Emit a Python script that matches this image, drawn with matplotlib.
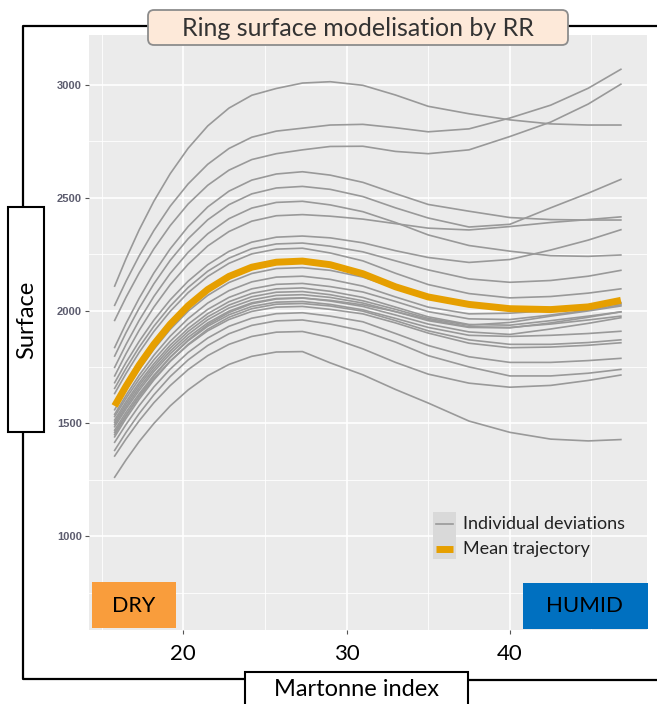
import matplotlib
matplotlib.use("Agg")
import matplotlib.pyplot as plt
from matplotlib.transforms import Affine2D
from matplotlib.patches import Rectangle, FancyBboxPatch
from matplotlib.lines import Line2D

# ---------------- data ----------------
martonne = [15.8, 16.5, 17.3, 18.2, 19.2, 20.3, 21.5, 22.8, 24.2, 25.7,
            27.3, 29, 31, 33, 35, 37.5, 40, 42.5, 44.8, 46.8]

mean_trajectory = [1577, 1665, 1758, 1850, 1939, 2021, 2093, 2151, 2192, 2214,
                   2219, 2203, 2163, 2105, 2060, 2027, 2008, 2004, 2016, 2045]

ind_A = [2108, 2230, 2357, 2484, 2606, 2719, 2818, 2897, 2954, 2984, 3008, 3014, 2998, 2955, 2905, 2872, 2845, 2827, 2822, 2822]
ind_B = [2023, 2130, 2242, 2354, 2462, 2561, 2648, 2718, 2768, 2795, 2808, 2822, 2825, 2810, 2792, 2805, 2853, 2910, 2985, 3069]
ind_C = [1956, 2059, 2166, 2273, 2376, 2472, 2555, 2622, 2669, 2695, 2712, 2727, 2728, 2705, 2695, 2712, 2771, 2835, 2915, 3003]
ind_D = [1836, 1943, 2054, 2166, 2273, 2372, 2459, 2529, 2578, 2605, 2615, 2600, 2568, 2518, 2470, 2440, 2412, 2403, 2401, 2401]
ind_E = [1798, 1902, 2010, 2118, 2222, 2318, 2402, 2469, 2517, 2543, 2550, 2537, 2505, 2455, 2410, 2370, 2382, 2455, 2520, 2581]
ind_F = [1748, 1850, 1956, 2062, 2164, 2258, 2340, 2407, 2454, 2479, 2484, 2468, 2438, 2390, 2335, 2288, 2263, 2243, 2240, 2246]
ind_G = [1710, 1809, 1912, 2015, 2114, 2205, 2286, 2350, 2396, 2420, 2425, 2418, 2405, 2385, 2365, 2357, 2372, 2390, 2403, 2415]
ind_H = [1680, 1770, 1863, 1957, 2047, 2130, 2203, 2262, 2303, 2325, 2330, 2322, 2300, 2265, 2235, 2213, 2226, 2268, 2312, 2358]
ind_I = [1655, 1744, 1837, 1930, 2019, 2102, 2174, 2232, 2274, 2295, 2299, 2285, 2260, 2220, 2180, 2140, 2125, 2133, 2152, 2178]
ind_J = [1632, 1721, 1814, 1907, 1996, 2079, 2151, 2209, 2251, 2272, 2276, 2255, 2220, 2165, 2115, 2075, 2056, 2062, 2077, 2096]
ind_K = [1560, 1647, 1738, 1828, 1916, 1997, 2067, 2124, 2164, 2186, 2190, 2178, 2148, 2100, 2060, 2022, 2010, 2013, 2022, 2035]
ind_L = [1540, 1624, 1713, 1801, 1886, 1964, 2033, 2088, 2127, 2148, 2152, 2138, 2108, 2060, 2015, 1985, 1988, 2000, 2013, 2030]
ind_M = [1530, 1611, 1696, 1781, 1863, 1939, 2005, 2058, 2096, 2116, 2120, 2106, 2082, 2040, 1995, 1963, 1960, 1980, 2002, 2025]
ind_N = [1515, 1596, 1680, 1764, 1846, 1920, 1986, 2039, 2076, 2096, 2100, 2085, 2058, 2015, 1972, 1938, 1935, 1955, 1975, 1994]
ind_O = [1505, 1585, 1669, 1752, 1833, 1907, 1972, 2024, 2061, 2081, 2084, 2070, 2043, 2005, 1965, 1935, 1947, 1975, 1998, 2020]
ind_P = [1495, 1574, 1657, 1740, 1820, 1894, 1959, 2011, 2047, 2067, 2070, 2058, 2033, 1995, 1955, 1925, 1923, 1945, 1970, 1994]
ind_Q = [1485, 1564, 1646, 1729, 1808, 1881, 1945, 1997, 2034, 2053, 2056, 2042, 2018, 1980, 1940, 1905, 1894, 1918, 1943, 1968]
ind_R = [1470, 1549, 1631, 1713, 1793, 1866, 1930, 1981, 2018, 2037, 2040, 2027, 2003, 1965, 1925, 1890, 1885, 1890, 1898, 1908]
ind_S = [1460, 1537, 1618, 1698, 1776, 1847, 1910, 1960, 1996, 2015, 2018, 2005, 1985, 1945, 1900, 1855, 1835, 1838, 1846, 1857]
ind_T = [1450, 1533, 1621, 1708, 1792, 1869, 1937, 1991, 2030, 2051, 2055, 2045, 2025, 1995, 1960, 1928, 1925, 1940, 1958, 1975]
ind_U = [1440, 1522, 1607, 1692, 1774, 1850, 1917, 1970, 2008, 2028, 2031, 2020, 1997, 1955, 1910, 1870, 1850, 1850, 1858, 1870]
ind_V = [1416, 1495, 1578, 1661, 1740, 1814, 1878, 1930, 1966, 1986, 1990, 1975, 1950, 1898, 1845, 1795, 1770, 1770, 1778, 1788]
ind_W = [1380, 1460, 1543, 1626, 1707, 1781, 1845, 1897, 1934, 1954, 1958, 1940, 1910, 1860, 1800, 1750, 1710, 1710, 1722, 1739]
ind_X = [1355, 1431, 1511, 1591, 1667, 1738, 1800, 1850, 1885, 1904, 1907, 1880, 1830, 1770, 1718, 1678, 1660, 1668, 1690, 1714]
ind_Y = [1261, 1338, 1419, 1499, 1577, 1648, 1711, 1761, 1797, 1816, 1818, 1768, 1715, 1650, 1590, 1510, 1460, 1430, 1422, 1428]

individuals = [ind_A, ind_B, ind_C, ind_D, ind_E, ind_F, ind_G, ind_H, ind_I,
               ind_J, ind_K, ind_L, ind_M, ind_N, ind_O, ind_P, ind_Q, ind_R,
               ind_S, ind_T, ind_U, ind_V, ind_W, ind_X, ind_Y]

x_ticks = [20, 30, 40]
y_ticks = [1000, 1500, 2000, 2500, 3000]

# ---------------- figure ----------------
W, H, DPI = 657, 704, 100
fig = plt.figure(figsize=(W / DPI, H / DPI), dpi=DPI)
fig.patch.set_facecolor("white")

# pixel transform (origin top-left)
px = Affine2D().scale(1, -1).translate(0, H) + Affine2D().scale(1 / DPI) + fig.dpi_scale_trans

L, R, T, B = 89, 647, 35, 630
ax = fig.add_axes([L / W, 1 - B / H, (R - L) / W, (B - T) / H])
ax.set_facecolor("#EBEBEB")
for s in ax.spines.values():
    s.set_visible(False)

ax.set_xlim(14.23, 48.4)
ax.set_ylim(584, 3221)

ax.set_xticks(x_ticks)
ax.set_xticks([15, 25, 35, 45], minor=True)
ax.set_yticks(y_ticks)
ax.set_yticks([750, 1250, 1750, 2250, 2750], minor=True)
ax.grid(True, which="major", color="white", lw=1.2)
ax.grid(True, which="minor", color="white", lw=0.6)
ax.set_axisbelow(True)
ax.tick_params(which="minor", length=0)
ax.tick_params(axis="y", which="major", length=3, color="#555555", pad=2,
               labelsize=8, labelcolor="#5c5c6e")
ax.tick_params(axis="x", which="major", length=3, color="#555555", pad=7,
               labelsize=16, labelcolor="black")
for lab in ax.get_xticklabels():
    lab.set_fontfamily("Lato")
for lab in ax.get_yticklabels():
    lab.set_fontfamily("Liberation Sans")
    lab.set_fontweight("bold")

for ys in individuals:
    ax.plot(martonne, ys, color="#999999", lw=1.2, zorder=2)
ax.plot(martonne, mean_trajectory, color="#E69F00", lw=5, solid_capstyle="butt",
        solid_joinstyle="round", zorder=3)

# legend
fig.add_artist(Rectangle((433, 512), 23, 47, transform=px, facecolor="#D9D9D9",
                         edgecolor="none", zorder=1))
fig.add_artist(Line2D([436, 453], [524, 524], transform=px, color="#999999", lw=1.2, zorder=2))
fig.add_artist(Line2D([436, 453], [549, 549], transform=px, color="#E69F00", lw=5,
                      solid_capstyle="butt", zorder=2))
fig.text(463, 524, "Individual deviations", transform=px, fontsize=13,
         family="Lato", color="#222222", va="center", ha="left")
fig.text(463, 549, "Mean trajectory", transform=px, fontsize=13,
         family="Lato", color="#222222", va="center", ha="left")

# ---------------- overlay annotations ----------------
frame_kw = dict(transform=px, color="black", lw=1.6, solid_capstyle="butt", zorder=1)
fig.add_artist(Line2D([148, 23, 23], [26, 26, 207], **frame_kw))
fig.add_artist(Line2D([23, 23, 245], [432, 679, 679], **frame_kw))
fig.add_artist(Line2D([468, 657], [680, 680], **frame_kw))
fig.add_artist(Line2D([568, 657], [26, 26], **frame_kw))

# title box
fig.add_artist(FancyBboxPatch((148, 10), 420, 35, transform=px,
                              boxstyle="round,pad=0,rounding_size=6",
                              facecolor="#FDE9D9", edgecolor="#8C8C8C", lw=1.3, zorder=4))
fig.text(358, 28, "Ring surface modelisation by RR", transform=px, fontsize=18,
         family="Lato", color="#333333", ha="center", va="center", zorder=5)

# Surface box
fig.add_artist(Rectangle((8, 207), 36, 225, transform=px, facecolor="white",
                         edgecolor="black", lw=1.5, zorder=4))
fig.text(27, 320, "Surface", transform=px, fontsize=17, family="Lato",
         rotation=90, ha="center", va="center", color="black", zorder=5)

# Martonne box
fig.add_artist(Rectangle((245, 672), 223, 40, transform=px, facecolor="white",
                         edgecolor="black", lw=1.5, zorder=4))
fig.text(356, 690, "Martonne index", transform=px, fontsize=17, family="Lato",
         ha="center", va="center", color="black", zorder=5)

# DRY / HUMID boxes
fig.add_artist(Rectangle((92, 582), 84, 46, transform=px, facecolor="#F99D3C",
                         edgecolor="none", zorder=4))
fig.text(134, 606, "DRY", transform=px, fontsize=15.5, family="Lato",
         ha="center", va="center", color="black", zorder=5)
fig.add_artist(Rectangle((523, 583), 125, 46, transform=px, facecolor="#0070C0",
                         edgecolor="none", zorder=4))
fig.text(585, 606, "HUMID", transform=px, fontsize=16, family="Lato",
         ha="center", va="center", color="black", zorder=5)

fig.savefig("out.png", dpi=DPI)
